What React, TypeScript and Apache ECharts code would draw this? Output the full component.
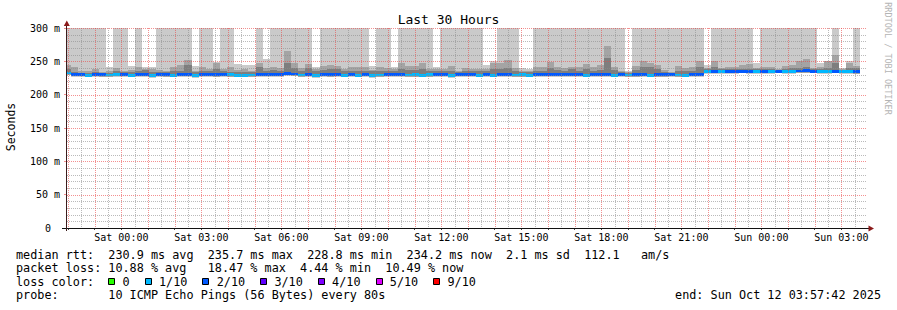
import React, { useEffect, useRef } from "react";
import * as echarts from "echarts";

// ---- time axis (hours after Fri 21:00) ----
const X_MIN = 0.9617; // Fri 21:57:42
const X_MAX = 30.9617; // Sun 03:57:42
const FIRST_BIN = 0.8333; // Fri 21:50
const BIN_H = 16 / 60; // 16 minute consolidation step

const tickHours = [3, 6, 9, 12, 15, 18, 21, 24, 27, 30];
const tickLabels = [
  "Sat 00:00", "Sat 03:00", "Sat 06:00", "Sat 09:00", "Sat 12:00",
  "Sat 15:00", "Sat 18:00", "Sat 21:00", "Sun 00:00", "Sun 03:00",
];
const yTicks = [0, 50, 100, 150, 200, 250, 300];
const Y_MAX = 300;
const Y_MAJOR = 50;
const Y_MINOR = 10;

// ---- smoke (ms): outer ping range top, inner ranges, median, loss % ----
const smokeTop = [
  300, 300, 300, 300, 300, 300, 241, 300, 300, 243, 300, 242, 242, 300, 300, 300, 300, 300, 243, 300, 300, 249, 300,
  300, 246, 244, 244, 300, 254, 300, 300, 300, 300, 300, 300, 241, 300, 300, 300, 300, 300, 300, 300, 243, 300, 300,
  241, 300, 300, 300, 300, 300, 242, 300, 300, 300, 300, 300, 300, 245, 250, 300, 300, 300, 239.5, 238.5, 300, 300, 300,
  300, 300, 300, 300, 300, 300, 300, 300, 300, 300, 236, 300, 300, 300, 300, 300, 300, 300, 300, 300, 300, 244, 300,
  300, 300, 300, 300, 300, 247, 300, 300, 300, 300, 300, 300, 300, 300, 247, 250, 300, 239.5, 250, 300,
];
const smokeMid = [
  244, 241, 236, 236, 238.5, 234.5, 236, 240, 236, 237, 241, 239, 238, 237, 236, 241, 245, 252, 236, 241, 238.5, 247, 238.5,
  241, 237, 238, 236, 247, 240, 242, 239.5, 266, 247.5, 240, 246, 238, 243.5, 245, 243.5, 238.5, 242, 241, 242, 237, 241, 239.5,
  238, 247, 243.5, 243.5, 247, 238.5, 238, 238.5, 243.5, 236, 240, 238.5, 238.5, 239, 247, 247, 252, 239.5, 236, 236, 242, 242, 248.5,
  242, 239.5, 242, 241, 246, 241, 245, 273.5, 242, 236, 234, 242.5, 250, 247, 245, 237, 233.5, 242.5, 239.5, 241, 250, 240, 251,
  240, 242, 241, 245, 246, 240, 241, 242, 238.5, 243.5, 245, 251, 254, 240, 242, 250, 259, 238, 248, 243.5,
];
const smokeDark = [
  238, 234, 233, 233, 234, 233, 233, 235, 234, 234, 236, 237, 234, 234, 234, 235, 236, 245, 234, 235, 235, 238, 235,
  234, 234, 234, 234, 241, 236, 237, 236, 247, 240, 236, 240, 235, 237, 238, 238, 235, 236, 236, 236, 235, 236, 235,
  235, 238.5, 237, 237, 238, 235, 235, 235, 236, 234, 235, 235, 235, 236, 238, 239, 240, 235, 234, 234, 236, 236, 240,
  237, 236, 238, 236, 238, 236, 237, 255, 237, 234, 233, 237, 242, 241, 238, 234, 232.5, 236, 236, 236, 241, 238, 242,
  238, 238, 238, 239, 239, 238, 238, 238, 237, 239, 240, 240, 242, 238, 238, 240, 247, 237, 240, 240,
];
const medianRtt = [
  232.5, 230.2, 230.0, 229.3, 229.8, 229.6, 229.5, 229.8, 230.1, 229.4, 230.0, 230.3, 229.2, 229.9, 229.6, 229.4, 230.4, 230.6, 229.2, 229.8, 230.0, 229.7, 229.9,
  229.6, 229.3, 229.4, 229.5, 230.2, 230.0, 229.8, 229.9, 231.4, 231.0, 229.5, 230.1, 229.0, 229.8, 229.6, 230.0, 229.3, 229.9, 229.4, 229.8, 229.2, 229.5, 230.0,
  230.4, 230.6, 229.5, 229.6, 229.4, 229.7, 230.1, 230.3, 228.8, 230.2, 230.0, 229.9, 229.4, 229.8, 229.3, 230.2, 230.0, 229.5, 229.6, 229.4, 230.1, 229.9, 230.3,
  230.1, 229.9, 230.0, 229.8, 229.4, 229.9, 230.0, 230.4, 229.3, 229.8, 229.5, 229.7, 229.9, 229.4, 229.6, 229.7, 229.8, 229.5, 229.3, 230.0, 230.3, 234.6, 235.2,
  234.8, 235.0, 235.1, 235.3, 235.2, 234.7, 235.0, 234.6, 235.4, 234.9, 235.1, 235.5, 235.7, 235.3, 234.5, 235.0, 235.4, 234.3, 235.0, 234.2,
];
const lossPct = [
  8.9, 12.2, 13.1, 8.4, 11.6, 12.8, 9.2, 7.8, 14.4, 8.9, 12.5, 11.4, 9.4, 13.3, 12.1, 8.6, 12.9, 14.7, 9.1, 11.8, 12.4, 13.6, 11.2,
  8.2, 9.0, 7.6, 8.8, 12.0, 13.9, 11.5, 12.7, 15.8, 14.2, 9.3, 11.9, 8.0, 12.6, 11.3, 13.0, 9.6, 11.7, 8.7, 12.2, 9.5, 8.3, 11.1,
  12.3, 13.5, 8.1, 7.2, 9.4, 8.6, 11.6, 12.9, 9.7, 13.2, 11.4, 12.0, 8.9, 11.3, 9.2, 12.8, 14.0, 9.0, 6.9, 4.44, 11.5, 12.4, 13.8,
  12.6, 11.9, 13.1, 12.2, 9.1, 11.7, 12.5, 18.47, 9.3, 11.4, 8.8, 12.1, 14.6, 9.5, 12.9, 11.6, 12.3, 8.5, 9.0, 11.8, 13.4, 8.7, 12.7,
  9.2, 11.9, 12.4, 11.3, 12.0, 8.4, 11.6, 9.1, 12.8, 8.9, 9.6, 11.5, 13.7, 12.2, 8.3, 9.4, 12.6, 8.6, 9.3, 10.49,
];

// ---- legend ----
const legendRows = [
  { label: "median rtt:", text: "230.9 ms avg  235.7 ms max  228.8 ms min  234.2 ms now  2.1 ms sd  112.1   am/s" },
  { label: "packet loss:", text: "10.88 % avg   18.47 % max  4.44 % min  10.49 % now" },
  { label: "loss color:", text: "" },
  { label: "probe:", text: "10 ICMP Echo Pings (56 Bytes) every 80s" },
];
const lossLegend = [
  { label: "0", color: "#26ff00" },
  { label: "1/10", color: "#00b8ff" },
  { label: "2/10", color: "#0059ff" },
  { label: "3/10", color: "#5e00ff" },
  { label: "4/10", color: "#7e00ff" },
  { label: "5/10", color: "#dd00ff" },
  { label: "9/10", color: "#ff0000" },
];
const lossThresholds = [0, 10, 20, 30, 40, 50, 90];
const endText = "end: Sun Oct 12 03:57:42 2025";

const SMOKE = ["#cacaca", "#a4a4a4", "#7e7e7e"];
const MONO = '"DejaVu Sans Mono", monospace';
const CW = 7.1; // legend char advance
const MAJOR_C = "rgba(235, 70, 70, 0.6)";
const MINOR_C = "rgba(140, 140, 140, 0.6)";

function lossColor(p: number) {
  for (let i = 0; i < lossThresholds.length; i++) {
    if (p <= lossThresholds[i]) return lossLegend[i].color;
  }
  return lossLegend[lossLegend.length - 1].color;
}

// grid line items: [orientation (0 vertical / 1 horizontal), value, major?]
function gridItems() {
  const minorItems: number[][] = [];
  const majorItems: number[][] = [];
  for (let h = Math.ceil(X_MIN * 2) / 2; h < X_MAX; h += 0.5) {
    if (Number.isInteger(h)) majorItems.push([0, h, 1]);
    else minorItems.push([0, h, 0]);
  }
  for (let v = 0; v <= Y_MAX; v += Y_MINOR) {
    if (v % Y_MAJOR === 0) { if (v > 0) majorItems.push([1, v, 1]); }
    else minorItems.push([1, v, 0]);
  }
  return minorItems.concat(majorItems);
}

export default function App() {
  const ref = useRef<HTMLDivElement>(null);
  useEffect(() => {
    if (!ref.current) return;
    const chart = echarts.init(ref.current, undefined, { renderer: "svg" });
    const data = medianRtt.map((m, i) => [
      FIRST_BIN + i * BIN_H, smokeTop[i], smokeMid[i], smokeDark[i], m, lossPct[i],
    ]);

    const rowY = [254.6, 268.2, 281.9, 295.4];
    const graphics: any[] = [];
    const txt = (x: number, y: number, text: string, size: number, extra: any = {}) => ({
      type: "text",
      x, y,
      silent: true,
      ...extra,
      style: {
        text, font: `${size}px ${MONO}`, fill: extra.fill || "#000",
        textAlign: extra.align || "left", textVerticalAlign: "middle",
      },
    });
    graphics.push(txt(448.5, 19.8, "Last 30 Hours", 13, { align: "center" }));
    graphics.push(txt(11, 127, "Seconds", 11.5, { align: "center", rotation: Math.PI / 2 }));
    graphics.push(txt(888, 58.5, "RRDTOOL / TOBI OETIKER", 8.5, { align: "center", rotation: -Math.PI / 2, fill: "#b4b4b4" }));
    legendRows.forEach((r, i) => {
      graphics.push(txt(16, rowY[i], r.label, 11.8));
      if (r.text) graphics.push(txt(16 + 13 * CW, rowY[i], r.text, 11.8));
    });
    let lx = 16 + 13 * CW;
    lossLegend.forEach((l) => {
      graphics.push({
        type: "rect", silent: true,
        shape: { x: Math.round(lx) + 0.5, y: 278.5, width: 6, height: 6 },
        style: { fill: l.color, stroke: "#000", lineWidth: 1 },
      });
      graphics.push(txt(lx + 14.3, rowY[2], l.label, 11.8));
      lx = lx + 14.3 + l.label.length * CW + 15;
    });
    graphics.push(txt(881, rowY[3], endText, 11.8, { align: "right" }));
    // axis lines and arrows
    graphics.push({ type: "line", silent: true, z: 10, shape: { x1: 62, y1: 228.5, x2: 869, y2: 228.5 }, style: { stroke: "#111", lineWidth: 1 } });
    graphics.push({ type: "line", silent: true, z: 10, shape: { x1: 66.5, y1: 24, x2: 66.5, y2: 231 }, style: { stroke: "#3a1c1c", lineWidth: 1 } });
    graphics.push({ type: "polygon", silent: true, z: 10, shape: { points: [[66.8, 20.5], [63.8, 26], [69.8, 26]] }, style: { fill: "#8b1a1a" } });
    graphics.push({ type: "polygon", silent: true, z: 10, shape: { points: [[874, 228.5], [868.5, 225.5], [868.5, 231.5]] }, style: { fill: "#8b1a1a" } });

    chart.setOption({
      animation: false,
      backgroundColor: "#fff",
      grid: { left: 67, top: 28, width: 800, height: 200, outerBoundsMode: "none", containLabel: false },
      xAxis: {
        type: "value",
        min: X_MIN, max: X_MAX,
        minInterval: 1, maxInterval: 1, splitNumber: 30,
        z: 3,
        axisLine: { show: false },
        axisTick: { show: true, length: 2, lineStyle: { color: "#444" } },
        splitLine: { show: false },
        axisLabel: {
          margin: 4,
          fontFamily: MONO, fontSize: 10, color: "#000",
          showMinLabel: false, showMaxLabel: false,
          formatter: (v: number) => {
            const k = tickHours.findIndex((h) => Math.abs(h - v) < 1e-6);
            return k >= 0 ? tickLabels[k] : "";
          },
        },
      },
      yAxis: {
        type: "value",
        min: 0, max: Y_MAX, interval: Y_MAJOR,
        z: 3,
        axisLine: { show: false },
        axisTick: { show: true, length: 3, lineStyle: { color: MAJOR_C } },
        splitLine: { show: false },
        axisLabel: {
          margin: 7,
          fontFamily: MONO, fontSize: 10, color: "#000",
          formatter: (v: number) => (yTicks.indexOf(v) <= 0 ? "{z|0}" : `${v} m`),
          rich: { z: { fontFamily: MONO, fontSize: 10, color: "#000", padding: [0, 9, 0, 0] } },
        },
      },
      graphic: graphics,
      series: [
        {
          type: "custom",
          z: 1,
          clip: true,
          silent: true,
          data,
          encode: { x: 0, y: [1, 4] },
          renderItem: (_params: any, api: any) => {
            const start = api.value(0) as number;
            const top = api.value(1) as number;
            const mid = api.value(2) as number;
            const dark = api.value(3) as number;
            const med = api.value(4) as number;
            const loss = api.value(5) as number;
            const xa = Math.round(api.coord([start, 0])[0]);
            const xb = Math.round(api.coord([start + BIN_H, 0])[0]);
            const yy = (v: number) => api.coord([start, v])[1];
            const rect = (lo: number, hi: number, fill: string) => {
              const y1 = Math.round(yy(hi));
              const y2 = Math.round(yy(lo));
              return {
                type: "rect",
                shape: { x: xa, y: y1, width: xb - xa, height: Math.max(0, y2 - y1) },
                style: { fill },
              };
            };
            const children: any[] = [rect(med - 3.5, top, SMOKE[0])];
            if (mid > med) children.push(rect(med - 2.5, mid, SMOKE[1]));
            if (dark > med) children.push(rect(med - 1.5, dark, SMOKE[2]));
            children.push(rect(med - 2.2, med + 2.2, lossColor(loss)));
            return { type: "group", children };
          },
        },
        {
          type: "custom",
          z: 2,
          clip: true,
          silent: true,
          data: gridItems(),
          encode: { x: 1 },
          renderItem: (_params: any, api: any) => {
            const kind = api.value(0) as number;
            const v = api.value(1) as number;
            const major = api.value(2) as number;
            const tl = api.coord([X_MIN, Y_MAX]);
            const br = api.coord([X_MAX, 0]);
            let shape;
            if (kind === 0) {
              const x = Math.round(api.coord([v, 0])[0]) + 0.5;
              shape = { x1: x, y1: Math.round(tl[1]), x2: x, y2: Math.round(br[1]) };
            } else {
              const y = Math.round(api.coord([X_MIN, v])[1]) + 0.5;
              shape = { x1: Math.round(tl[0]), y1: y, x2: Math.round(br[0]), y2: y };
            }
            return {
              type: "line",
              shape,
              style: { stroke: major ? MAJOR_C : MINOR_C, lineWidth: 1, lineDash: [1, 1] },
            };
          },
        },
      ],
    });
    return () => chart.dispose();
  }, []);
  return (
    <div
      ref={ref}
      style={{ position: "fixed", left: 0, top: 0, width: 897, height: 310, background: "#fff" }}
    />
  );
}
